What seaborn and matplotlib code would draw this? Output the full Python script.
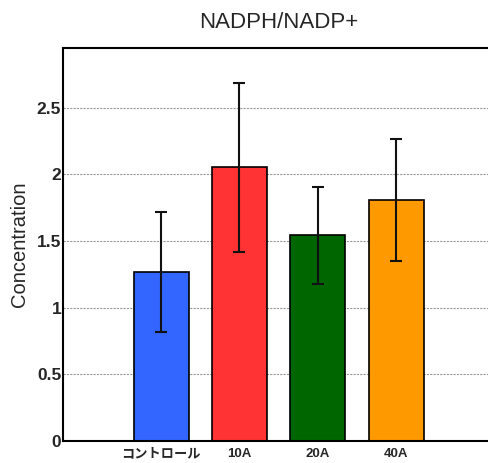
import matplotlib
matplotlib.use("Agg")
import matplotlib.pyplot as plt
import seaborn as sns

# data
groups = ["コントロール", "10A", "20A", "40A"]
conc = [1.268, 2.053, 1.544, 1.808]
err = [0.45, 0.633, 0.363, 0.46]
colors = ["#3366FF", "#FF3333", "#006600", "#FF9900"]

sns.set_style("white")
plt.rcParams["font.family"] = ["Liberation Sans", "Noto Sans CJK JP", "DejaVu Sans"]

fig = plt.figure(figsize=(4.88, 4.63), dpi=100)
ax = fig.add_axes([0.1297, 0.0475, 0.8826, 0.8495])

sns.barplot(x=groups, y=conc, hue=groups, palette=colors, legend=False,
            width=0.7, edgecolor="black", linewidth=1.2, saturation=1, ax=ax, zorder=2)
ax.errorbar(range(len(groups)), conc, yerr=err, fmt="none", ecolor="#111111",
            elinewidth=1.5, capsize=4, capthick=1.5, zorder=3)

ax.set_xlim(-1.25, 4.25)
ax.set_ylim(0, 2.95)
ax.set_yticks([0, 0.5, 1, 1.5, 2, 2.5])
ax.set_yticklabels(["0", "0.5", "1", "1.5", "2", "2.5"])
ax.yaxis.grid(True, color="#9a9a9a", linestyle=(0, (2, 1)), linewidth=0.8, zorder=0)
ax.set_axisbelow(True)

ax.tick_params(axis="y", length=0, pad=1.5, labelsize=12.5)
ax.tick_params(axis="x", length=0, pad=5, labelsize=9.5)
for t in ax.get_yticklabels():
    t.set_fontweight("bold")
for t in ax.get_xticklabels():
    t.set_fontweight("bold")
    t.set_family(["Liberation Sans", "Noto Sans CJK JP"])

ax.set_ylabel("Concentration", fontsize=14.5, labelpad=6)
ax.set_title("NADPH/NADP+", fontsize=16, pad=14)

for side in ["left", "bottom", "top"]:
    ax.spines[side].set_color("black")
    ax.spines[side].set_linewidth(1.5)
ax.spines["right"].set_visible(False)

fig.savefig("out.png", dpi=100)
